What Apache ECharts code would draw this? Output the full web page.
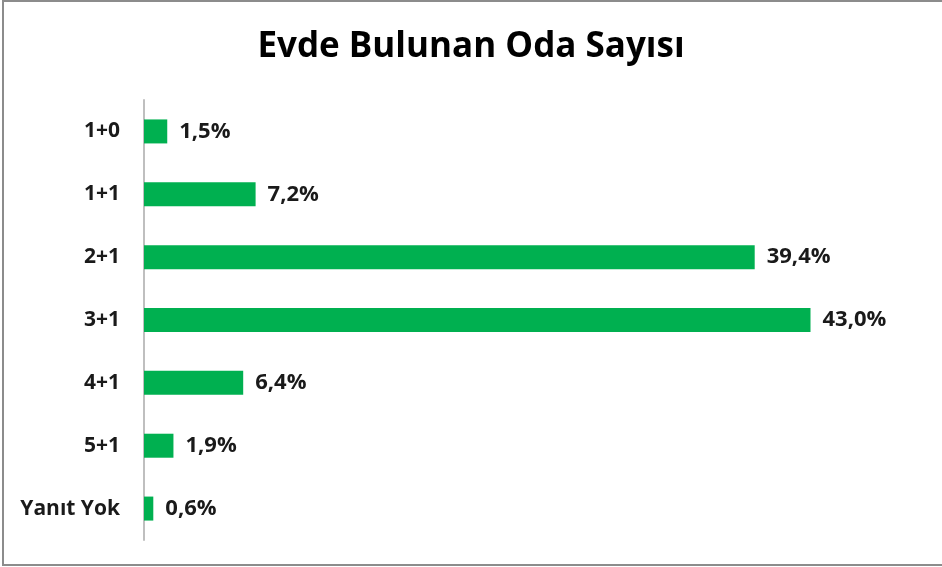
<!DOCTYPE html>
<html>
<head>
<meta charset="utf-8">
<script src="https://cdn.jsdelivr.net/npm/echarts@6/dist/echarts.min.js"></script>
<style>
  html, body { margin: 0; padding: 0; background: #fff; }
  #chart { width: 942px; height: 567px; }
</style>
</head>
<body>
<div id="chart"></div>
<script>
// Oda sayısı dağılımı (%)
const categories = ['1+0', '1+1', '2+1', '3+1', '4+1', '5+1', 'Yanıt Yok'];
const values = [1.5, 7.2, 39.4, 43.0, 6.4, 1.9, 0.6];

const font = '"Open Sans", "Noto Sans", sans-serif';

const myChart = echarts.init(document.getElementById('chart'));

const option = {
  backgroundColor: '#fff',
  animation: false,
  title: {
    text: 'Evde Bulunan Oda Sayısı',
    left: 'center',
    top: 25,
    textStyle: { fontFamily: font, fontSize: 35, fontWeight: 'bold', color: '#000' }
  },
  graphic: [{
    type: 'rect',
    shape: { x: 3, y: 1, width: 960, height: 564 },
    style: { fill: 'none', stroke: '#8c8c8c', lineWidth: 2 },
    silent: true
  }],
  grid: { left: 144, right: 23, top: 100, bottom: 27 },
  xAxis: {
    type: 'value',
    min: 0,
    max: 50,
    show: false
  },
  yAxis: {
    type: 'category',
    data: categories,
    inverse: true,
    axisLine: { show: true, lineStyle: { color: '#bfbfbf', width: 2 } },
    axisTick: { show: false },
    axisLabel: {
      margin: 24,
      fontFamily: font,
      fontSize: 21,
      fontWeight: 'bold',
      color: '#1a1a1a'
    }
  },
  series: [{
    type: 'bar',
    data: values,
    barWidth: 24,
    itemStyle: { color: '#00b050' },
    label: {
      show: true,
      position: 'right',
      distance: 12,
      fontFamily: font,
      fontSize: 22,
      fontWeight: 'bold',
      color: '#1a1a1a',
      formatter: (p) => p.value.toFixed(1).replace('.', ',') + '%'
    }
  }]
};

myChart.setOption(option);
</script>
</body>
</html>
